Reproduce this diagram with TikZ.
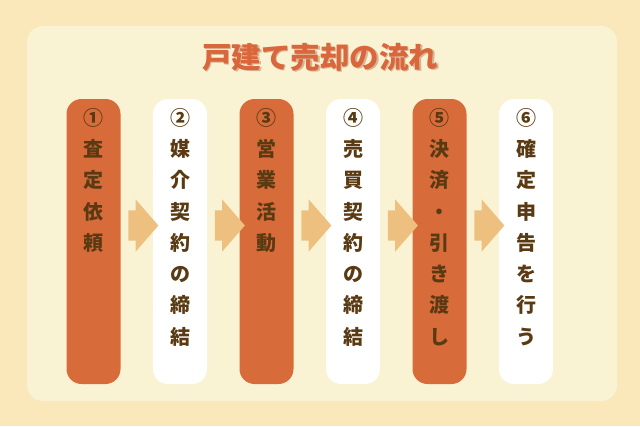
\documentclass[tikz,border=0pt]{standalone}
\usepackage{fontspec}
\newfontfamily\cjk{Noto Sans CJK JP}
\usetikzlibrary{shapes.arrows}
\definecolor{outerbg}{HTML}{FAE8BA}
\definecolor{innerbg}{HTML}{F9F3D3}
\definecolor{boxorange}{HTML}{D86B3A}
\definecolor{arrowfill}{HTML}{EEC07F}
\definecolor{txtbrown}{HTML}{5A3A12}
\definecolor{titlecol}{HTML}{DA663C}
\tikzset{
  stepbox/.style={rounded corners=15pt, minimum width=54pt, minimum height=285pt, inner sep=0pt, draw=none},
  orangebox/.style={stepbox, fill=boxorange},
  whitebox/.style={stepbox, fill=white},
  steptext/.style={anchor=north, align=center, inner sep=0pt, text=txtbrown,
    font=\cjk\bfseries\fontsize{20}{31.3}\selectfont},
  flowarrow/.style={single arrow, fill=arrowfill, draw=none, minimum height=30pt,
    inner xsep=0pt, inner ysep=15pt, text height=0pt, text depth=0pt, text width=0pt,
    single arrow head extend=11pt, single arrow tip angle=98}
}
\begin{document}
\begin{tikzpicture}[x=1pt,y=-1pt]
\useasboundingbox (0,0) rectangle (640,426);
\fill[outerbg] (0,0) rectangle (640,426);
\fill[innerbg, rounded corners=16pt] (27,26) rectangle (617,401);
\node[text=titlecol!70!black, opacity=0.35, font=\cjk\bfseries\fontsize{29.5}{32}\selectfont] (titleshadow) at (321.5,58.5) {戸建て売却の流れ};
\node[text=titlecol, font=\cjk\bfseries\fontsize{29.5}{32}\selectfont] (title) at (320,57) {戸建て売却の流れ};

\node[orangebox] (b1) at (93.5,241.5) {};
\node[whitebox]  (b2) at (180,241.5) {};
\node[orangebox] (b3) at (266.5,241.5) {};
\node[whitebox]  (b4) at (353,241.5) {};
\node[orangebox] (b5) at (439.5,241.5) {};
\node[whitebox]  (b6) at (526,241.5) {};

\node[steptext] (t1) at ([yshift=-9pt]b1.north) {①\\査\\定\\依\\頼};
\node[steptext] (t2) at ([yshift=-9pt]b2.north) {②\\媒\\介\\契\\約\\の\\締\\結};
\node[steptext] (t3) at ([yshift=-9pt]b3.north) {③\\営\\業\\活\\動};
\node[steptext] (t4) at ([yshift=-9pt]b4.north) {④\\売\\買\\契\\約\\の\\締\\結};
\node[steptext] (t5) at ([yshift=-9pt]b5.north) {⑤\\決\\済\\・\\引\\き\\渡\\し};
\node[steptext] (t6) at ([yshift=-9pt]b6.north) {⑥\\確\\定\\申\\告\\を\\行\\う};

\foreach \a/\b in {b1/b2,b2/b3,b3/b4,b4/b5,b5/b6}{
  \path (\a.east) -- (\b.west) node[midway, flowarrow, yshift=16pt] (arr-\a) {};
}
\end{tikzpicture}
\end{document}
